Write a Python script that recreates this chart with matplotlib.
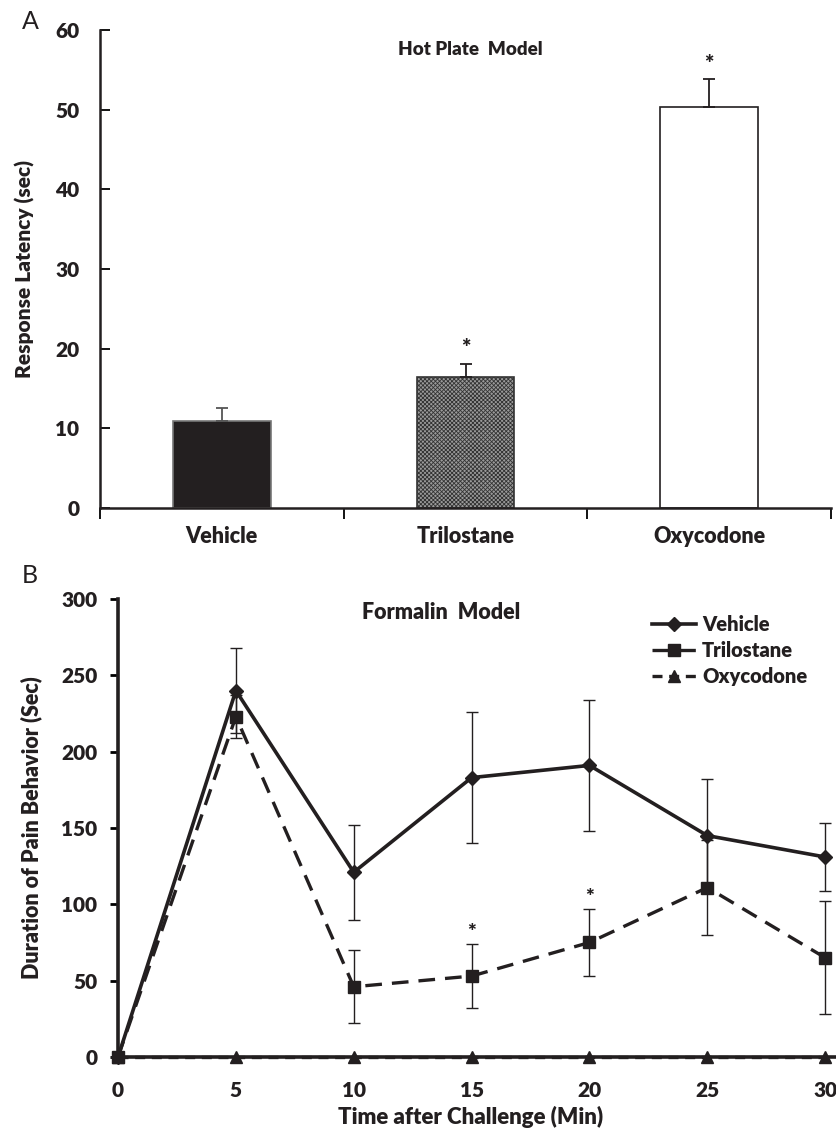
import numpy as np
import matplotlib.pyplot as plt

plt.rcParams['font.family'] = ['Lato', 'DejaVu Sans']
plt.rcParams['hatch.linewidth'] = 0.6
W = 'heavy'
INK = '#231f20'

# ── Panel A data: hot plate model ────────────────────────────────────────────
groups      = ['Vehicle', 'Trilostane', 'Oxycodone']
latency     = [10.9, 16.5, 50.4]
latency_err = [1.6, 1.6, 3.4]
latency_sig = [False, True, True]

# ── Panel B data: formalin model ─────────────────────────────────────────────
time_min   = [0, 5, 10, 15, 20, 25, 30]
veh_mean   = [0, 240, 121, 183, 191, 145, 131]
veh_err    = [0, 28, 31, 43, 43, 37, 22]
tri_mean   = [0, 223, 46, 53, 75, 111, 65]
tri_err    = [0, 14, 24, 21, 22, 31, 37]
oxy_mean   = [0, 0, 0, 0, 0, 0, 0]
tri_sig    = [False, False, False, True, True, False, False]

fig = plt.figure(figsize=(8.37, 11.33), dpi=100)

# ── Panel A ──────────────────────────────────────────────────────────────────
axA = fig.add_axes([0.1195, 0.5516, 0.8734, 0.4219])
x = np.arange(len(groups))
faces = [INK, '#9a9a9a', 'white']
edges = ['#777777', '#333333', INK]
hatches = [None, 'xxxxxxxx', None]
for i in range(len(groups)):
    axA.bar(x[i], latency[i], width=0.4, color=faces[i], edgecolor=edges[i],
            linewidth=1.2, hatch=hatches[i], zorder=2)
    axA.errorbar(x[i], latency[i], yerr=[[0], [latency_err[i]]], fmt='none',
                 ecolor='#555555' if i == 0 else INK, elinewidth=1.3,
                 capsize=4, capthick=1.3, zorder=3)
    if latency_sig[i]:
        axA.text(x[i], latency[i] + latency_err[i] + 0.6, '*', ha='center',
                 va='bottom', fontsize=16, fontweight=W, color=INK)

axA.set_xlim(-0.5, 2.5); axA.set_ylim(0, 60)
axA.set_yticks(np.arange(0, 61, 10))
axA.set_xticks([-0.5, 0.5, 1.5, 2.5]); axA.set_xticklabels([])
axA.set_xticks(x, minor=True); axA.set_xticklabels(groups, minor=True)
axA.tick_params(axis='x', which='major', direction='out', length=8, width=1.3)
axA.tick_params(axis='x', which='minor', length=0, pad=13, labelsize=15.5)
axA.tick_params(axis='y', direction='in', length=7, width=1.3, pad=15, labelsize=15)
for lab in axA.get_xticklabels(minor=True) + axA.get_yticklabels():
    lab.set_fontweight(W); lab.set_color(INK)
for s in ['top', 'right']:
    axA.spines[s].set_visible(False)
for s in ['left', 'bottom']:
    axA.spines[s].set_linewidth(1.8); axA.spines[s].set_color(INK)
axA.set_ylabel('Response Latency (sec)', fontsize=15, fontweight=W, color=INK)
axA.yaxis.set_label_coords(-0.089, 0.5)
axA.text(1.02, 57.5, 'Hot Plate  Model', ha='center', va='center', fontsize=13.5,
         fontweight=W, color=INK)
fig.text(0.026, 0.981, 'A', fontsize=18, fontweight='normal', va='center', color=INK)

# ── Panel B ──────────────────────────────────────────────────────────────────
axB = fig.add_axes([0.141, 0.0671, 0.859, 0.4042])
axB.errorbar(time_min[1:], veh_mean[1:], yerr=veh_err[1:], fmt='none',
             ecolor=INK, elinewidth=1, capsize=4, capthick=1, zorder=2)
axB.errorbar(time_min[1:], tri_mean[1:], yerr=tri_err[1:], fmt='none',
             ecolor=INK, elinewidth=1, capsize=4, capthick=1, zorder=2)
axB.plot(time_min, veh_mean, color=INK, lw=2.6, marker='D', ms=7,
         label='Vehicle', zorder=4, clip_on=False)
axB.plot(time_min, tri_mean, color=INK, lw=2.4, ls=(0, (5, 3)), marker='s',
         ms=8, label='Trilostane', zorder=4, clip_on=False)
axB.plot(time_min, oxy_mean, color=INK, lw=2.4, ls=(0, (3, 2)), marker='^',
         ms=8, label='Oxycodone', zorder=5, clip_on=False)
for t, m, e, s in zip(time_min, tri_mean, tri_err, tri_sig):
    if s:
        axB.text(t, m + e + 1, '*', ha='center', va='bottom', fontsize=15,
                 fontweight=W, color=INK)

axB.set_xlim(0, 30.5); axB.set_ylim(0, 300)
axB.set_xticks(np.arange(0, 31, 5)); axB.set_yticks(np.arange(0, 301, 50))
axB.tick_params(axis='x', length=0, pad=17, labelsize=15)
axB.tick_params(axis='y', direction='out', length=6, width=2, pad=9, labelsize=15)
for lab in axB.get_xticklabels() + axB.get_yticklabels():
    lab.set_fontweight(W); lab.set_color(INK)
for s in ['top', 'right']:
    axB.spines[s].set_visible(False)
for s in ['left', 'bottom']:
    axB.spines[s].set_linewidth(2.6); axB.spines[s].set_color(INK)
axB.set_xlabel('Time after Challenge (Min)', fontsize=16, fontweight=W, color=INK)
axB.xaxis.set_label_coords(0.49, -0.106)
axB.set_ylabel('Duration of Pain Behavior (Sec)', fontsize=15.5, fontweight=W, color=INK)
axB.yaxis.set_label_coords(-0.106, 0.5)
axB.text(13.7, 291, 'Formalin  Model', ha='center', va='center', fontsize=15.5,
         fontweight=W, color=INK)
leg = axB.legend(loc='upper left', bbox_to_anchor=(0.717, 1.005), frameon=False,
                 handlelength=2.2, handletextpad=0.3, labelspacing=0.35,
                 prop={'size': 14.5, 'weight': W})
for t in leg.get_texts():
    t.set_color(INK)
fig.text(0.026, 0.492, 'B', fontsize=18, fontweight='normal', va='center', color=INK)

fig.savefig('out.png', dpi=100)
